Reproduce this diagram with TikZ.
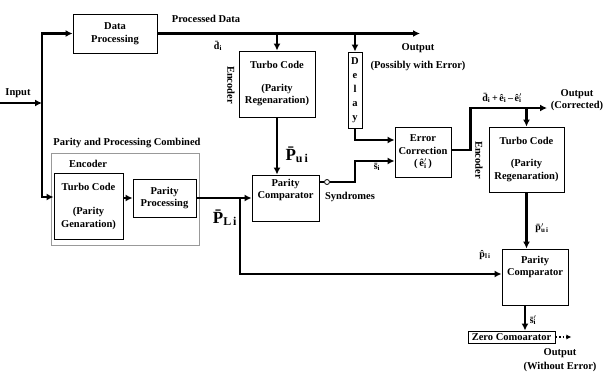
\documentclass[tikz,border=0pt]{standalone}
\usepackage{fontspec}
\setmainfont{Liberation Serif}
\usetikzlibrary{arrows.meta}
\newcommand{\subsup}[2]{#1\rlap{$'$}\textsubscript{#2}}

\begin{document}
\begin{tikzpicture}[x=1pt,y=-1pt,
  every node/.style={font=\bfseries\fontsize{10.5}{12.5}\selectfont},
  blk/.style={draw,line width=0.9pt,align=center,inner sep=1pt},
  lbl/.style={font=\bfseries\fontsize{10}{11}\selectfont},
  big/.style={font=\bfseries\fontsize{17}{17}\selectfont},
  wire/.style={line width=2.8pt},
  flow/.style={wire,-{Latex[length=7pt,width=7pt]}}]
\useasboundingbox (0,0) rectangle (606,376);
% blocks
\node[blk,minimum width=84,minimum height=39] (dp) at (115,33.5) {Data\\Processing};
\node[blk,minimum width=76,minimum height=66] (tc1) at (277,84) {Turbo Code\\[10pt](Parity\\Regenaration)};
\node[blk,minimum width=14,minimum height=76,inner sep=0pt,font=\bfseries\fontsize{10.5}{14}\selectfont] (dly) at (355,90) {D\\e\\l\\a\\y};
\node[blk,minimum width=56,minimum height=50] (ec) at (423,152) {Error\\Correction\\(\,\subsup{\^e}{i}\,)};
\node[blk,minimum width=75,minimum height=65] (tc2) at (526.5,159.5) {Turbo Code\\[10pt](Parity\\Regenaration)};
\node[blk,minimum width=66,minimum height=56] (pc2) at (535,277) {Parity\\Comparator\\[6pt]\strut};
\node[blk,minimum width=69,minimum height=66] (tce) at (88.5,206) {Turbo Code\\[12pt](Parity\\Genaration)};
\node[blk,minimum width=63,minimum height=38] (pp) at (164.5,198) {Parity\\Processing};
\node[blk,minimum width=67,minimum height=46] (pc1) at (285.5,198) {Parity\\Comparator\\[2pt]\strut};
\node[blk,minimum width=87,minimum height=12,inner sep=0.5pt] (zc) at (511.5,337) {Zero Comoarator};
\draw[gray!80,line width=0.6pt] (51,153) rectangle (199,245);
%
\coordinate (in) at (0,103);
\coordinate (jn) at (42,103);
\draw[flow] (in) -- (jn);
\draw[flow] (jn) |- (dp.west);
\draw[flow] (jn) |- ([yshift=9pt]tce.west);
\coordinate (out1) at (420,33.5);
\draw[flow] (dp.east) -- (out1);
\draw[flow] (tc1.north |- out1) -- (tc1.north);
\draw[flow] (dly.north |- out1) -- (dly.north);
\draw[flow] (dly.south) |- ([yshift=12pt]ec.west);
\draw[flow] (tc1.south) -- (tc1.south |- pc1.north);
\draw[flow] (tce.east |- pp.west) -- (pp.west);
\draw[flow] (pp.east) -- (pc1.west);
\coordinate (br) at (240,198);
\draw[flow] (br) |- ([yshift=3pt]pc2.west);
% syndromes
\node[circle,draw,line width=0.8pt,fill=white,inner sep=0pt,minimum size=5pt] (syn) at (327,182) {};
\draw[wire] ([yshift=16pt]pc1.east) -- (syn);
\draw[flow] (syn) -- ++(28,0) |- ([yshift=-9pt]ec.west);
\coordinate (out2) at (547,108);
\draw[flow] ([yshift=2pt]ec.east) -- ++(19,0) |- (out2);
\draw[flow] (tc2.north |- out2) -- (tc2.north);
\draw[flow] (tc2.south) -- (tc2.south |- pc2.north);
\draw[flow] ([xshift=-10pt]pc2.south) -- ([xshift=-10pt]pc2.south |- zc.north);
\draw[dotted,line width=1.6pt,-{Latex[length=5pt,width=5pt]}] (zc.east) -- ++(16,0);
% labels
\node (lin) at (18,93) {Input};
\node (lpd) at (206,19) {Processed Data};
\node[lbl] (ld) at (218,46) {\={d}\textsubscript{i}};
\node[rotate=-90] (lenc1) at (231,85) {Encoder};
\node[align=center] (lout1) at (418,57) {Output\\[5pt](Possibly with Error)};
\node (lcomb) at (127,143) {Parity and Processing Combined};
\node (lenc2) at (88,164) {Encoder};
\node[big] (lpu) at (297,155) {\={P}\textsubscript{u\,i}};
\node[big] (lpl) at (225,218) {\={P}\textsubscript{L\,i}};
\node[lbl] (ls) at (377,167) {\={s}\textsubscript{i}};
\node (lsyn) at (350,197) {Syndromes};
\node[lbl] (lcor) at (502,98) {\={d}\textsubscript{i}\,+\,\^{e}\textsubscript{i}\,--\,\subsup{\^{e}}{i}};
\node[align=center] (lout2) at (577,100) {Output\\(Corrected)};
\node[rotate=-90] (lenc3) at (479,160) {Encoder};
\node[lbl] (lpu2) at (542,228) {\subsup{\={p}}{u\,i}};
\node[lbl] (lpl2) at (485,255) {\^{p}\textsubscript{l\,i}};
\node[lbl] (ls2) at (533,320) {\subsup{\={s}}{i}};
\node[align=center] (lout3) at (560,360) {Output\\[2pt](Without Error)};
\end{tikzpicture}
\end{document}
